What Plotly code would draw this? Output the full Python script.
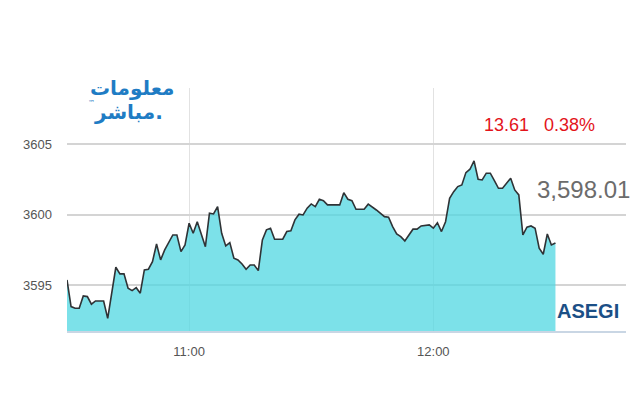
import plotly.graph_objects as go

DAY = "2024-01-01 "
times = ["10:30","10:31","10:32","10:33","10:34","10:35","10:36","10:37","10:38","10:39",
         "10:40","10:42","10:43","10:44","10:45","10:46","10:47","10:48","10:49","10:50",
         "10:51","10:52","10:53","10:54","10:56","10:57","10:58","10:59","11:00","11:01",
         "11:02","11:03","11:04","11:05","11:06","11:07","11:08","11:09","11:10","11:11",
         "11:12","11:13","11:14","11:15","11:16","11:17","11:18","11:19","11:20","11:21",
         "11:23","11:24","11:25","11:26","11:27","11:28","11:29","11:30","11:31","11:32",
         "11:33","11:34","11:37","11:38","11:39","11:40","11:41","11:43","11:44","11:46",
         "11:48","11:49","11:50","11:51","11:52","11:53","11:54","11:55","11:56","11:57",
         "11:59","12:00","12:01","12:02","12:03","12:04","12:05","12:06","12:07","12:08",
         "12:09","12:10","12:11","12:12","12:13","12:14","12:15","12:16","12:17","12:19",
         "12:20","12:21","12:22","12:23","12:24","12:25","12:26","12:27","12:28","12:29",
         "12:30"]
values = [3595.39,3593.50,3593.38,3593.38,3594.26,3594.21,3593.67,3593.90,3593.90,3593.90,
          3592.67,3596.29,3595.82,3595.82,3594.80,3594.63,3594.84,3594.45,3596.10,3596.15,
          3596.69,3597.94,3596.81,3597.52,3598.58,3598.58,3597.40,3597.87,3599.41,3598.70,
          3599.52,3598.70,3597.75,3600.12,3600.07,3600.59,3598.70,3597.80,3598.04,3596.93,
          3596.81,3596.52,3596.15,3596.45,3596.45,3596.05,3598.23,3598.94,3599.06,3598.28,
          3598.28,3598.82,3598.87,3599.65,3600.05,3600.00,3600.48,3600.78,3600.59,3601.11,
          3601.01,3600.71,3600.71,3601.58,3601.11,3601.01,3600.40,3600.40,3600.76,3600.35,
          3599.88,3599.84,3599.17,3598.65,3598.46,3598.16,3598.58,3598.99,3598.99,3599.22,
          3599.29,3599.06,3599.45,3598.82,3599.52,3601.18,3601.65,3602.01,3602.13,3603.00,
          3603.24,3603.83,3602.53,3602.48,3602.96,3602.96,3602.43,3601.89,3601.89,3602.60,
          3601.77,3601.42,3598.58,3599.13,3599.22,3599.06,3597.64,3597.21,3598.65,3597.87,
          3598.01]

y_ticks = [3595, 3600, 3605]
x_ticks = ["11:00", "12:00"]
last_value_label = "3,598.01"
change_label = "13.61"
change_pct_label = "0.38%"
index_name = "ASEGI"
logo_lines = ["معلومات", "مباشر."]

SANS = "Liberation Sans, Arial, sans-serif"

x = [DAY + t for t in times]

fig = go.Figure()
fig.add_trace(go.Scatter(
    x=x, y=values, mode="lines", fill="tozeroy",
    line=dict(color="#2f3336", width=1.6),
    fillcolor="rgba(80,215,225,0.75)",
    hoverinfo="skip", showlegend=False,
))

# page body has an 8px margin, so the plot area lands at x 67..626, y 88..331
fig.update_layout(
    width=640, height=400,
    margin=dict(l=59, r=22, t=80, b=77),
    paper_bgcolor="white", plot_bgcolor="white",
    xaxis=dict(
        type="date", automargin=False,
        range=[DAY + "10:30:00", DAY + "12:47:20"],
        tickvals=[DAY + t for t in x_ticks],
        ticktext=x_ticks,
        showgrid=True, gridcolor="#e2e2e2", gridwidth=1,
        showline=True, linecolor="#c9d6e4", linewidth=1.5,
        ticks="", zeroline=False,
        tickfont=dict(family=SANS, size=13, color="#555"),
        ticklabelstandoff=8,
    ),
    yaxis=dict(
        automargin=False,
        range=[3591.77, 3609.0],
        tickvals=y_ticks,
        ticktext=[str(v) for v in y_ticks],
        showgrid=True, gridcolor="#d4d4d4", gridwidth=2,
        showline=False, ticks="", zeroline=False,
        tickfont=dict(family=SANS, size=13, color="#555"),
        ticklabelstandoff=14,
    ),
)

def px_x(p):
    return (p - 67) / 559.0

def px_y(p):
    return (331 - p) / 243.0

ann = [
    dict(text=change_label, x=px_x(506), y=px_y(125), font=dict(family=SANS, size=18, color="#e3141b")),
    dict(text=change_pct_label, x=px_x(569), y=px_y(125), font=dict(family=SANS, size=18, color="#e3141b")),
    dict(text=last_value_label, x=px_x(583), y=px_y(189), font=dict(family=SANS, size=24, color="#6c6c6c")),
    dict(text="<b>" + index_name + "</b>", x=px_x(588), y=px_y(311), font=dict(family=SANS, size=20, color="#1b4f86")),
    dict(text="<b>" + logo_lines[0] + "</b>", x=px_x(132), y=px_y(88), font=dict(family="DejaVu Sans", size=20, color="#1f7cc4")),
    dict(text="<b>" + logo_lines[1] + "</b>", x=px_x(128), y=px_y(112), font=dict(family="DejaVu Sans", size=20, color="#1f7cc4")),
    dict(text="™", x=px_x(91), y=px_y(103), font=dict(family="DejaVu Sans", size=7, color="#1f7cc4")),
]
for a in ann:
    fig.add_annotation(xref="paper", yref="paper", showarrow=False,
                       xanchor="center", yanchor="middle", **a)

fig.write_html("out.html")
